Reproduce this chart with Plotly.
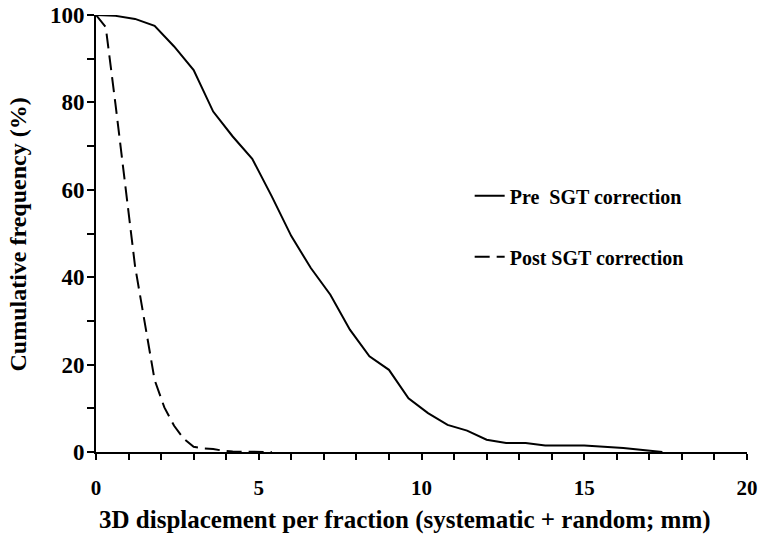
import plotly.graph_objects as go

# Data
pre_x = [0, 0.6, 1.2, 1.8, 2.4, 3.0, 3.6, 4.2, 4.8, 5.4, 6.0, 6.6, 7.2, 7.8, 8.4,
         9.0, 9.6, 10.2, 10.8, 11.4, 12.0, 12.6, 13.2, 13.8, 15.0, 16.2, 17.4]
pre_y = [100, 99.8, 99.1, 97.5, 92.8, 87.4, 77.9, 72.2, 67.1, 58.5, 49.4, 42.1, 36.0, 28.0, 21.9,
         18.8, 12.3, 8.9, 6.2, 4.9, 2.8, 2.05, 2.05, 1.5, 1.5, 0.9, 0]

post_x = [0, 0.3, 0.6, 0.9, 1.2, 1.5, 1.8, 2.1, 2.4, 2.7, 3.0, 3.3, 3.6, 3.9, 4.2, 4.8, 5.4]
post_y = [100, 97.2, 79.5, 61, 42.5, 29.5, 16.5, 10.2, 6.0, 3.0, 1.2, 0.8, 0.7, 0.3, 0.1, 0.05, 0]

x_ticks = [0, 5, 10, 15, 20]
y_ticks = [0, 20, 40, 60, 80, 100]

x_title = "3D displacement per fraction (systematic + random; mm)"
y_title = "Cumulative frequency (%)"

FONT = "Liberation Serif"

fig = go.Figure()
fig.add_trace(go.Scatter(x=pre_x, y=pre_y, mode="lines", name="Pre  SGT correction",
                         legendgroup="a",
                         line=dict(color="black", width=2)))
fig.add_trace(go.Scatter(x=post_x, y=post_y, mode="lines", name="Post SGT correction",
                         legendgroup="b",
                         line=dict(color="black", width=2, dash="15px,7px")))

fig.update_layout(
    width=759, height=536,
    margin=dict(l=96, r=12, t=15, b=84, autoexpand=False),
    paper_bgcolor="white", plot_bgcolor="white",
    font=dict(family=FONT, color="black", size=17),
    showlegend=True,
    legend=dict(x=0.574, y=0.402, xanchor="left", yanchor="bottom",
                tracegroupgap=32, bgcolor="rgba(0,0,0,0)",
                font=dict(family=FONT, size=20, color="black", weight="bold")),
    xaxis=dict(range=[0, 20], tickvals=x_ticks, ticktext=[str(v) for v in x_ticks],
               automargin=False, ticklabeloverflow="allow",
               showgrid=False, zeroline=False, showline=True, linecolor="black", linewidth=2,
               ticks="outside", tickcolor="black", ticklen=6, tickwidth=1.5,
               minor=dict(dtick=1, ticks="outside", ticklen=6, tickcolor="black", tickwidth=1.5),
               ticklabelstandoff=10,
               tickfont=dict(family=FONT, size=21, weight="bold")),
    yaxis=dict(range=[0, 100], tickvals=y_ticks, ticktext=[str(v) for v in y_ticks],
               automargin=False, ticklabeloverflow="allow",
               showgrid=False, zeroline=False, showline=True, linecolor="black", linewidth=2,
               ticks="outside", tickcolor="black", ticklen=7, tickwidth=1.5,
               minor=dict(dtick=10, ticks="outside", ticklen=7, tickcolor="black", tickwidth=1.5),
               ticklabelstandoff=-2,
               tickfont=dict(family=FONT, size=23, weight="bold")),
    annotations=[
        dict(text=x_title, xref="paper", yref="paper", x=0.4747, y=0,
             xanchor="center", yanchor="top", yshift=-52, showarrow=False,
             font=dict(family=FONT, size=25, weight="bold", color="black")),
        dict(text=y_title, xref="paper", yref="paper", x=0, y=0.5, textangle=-90,
             xanchor="center", yanchor="middle", xshift=-79, yshift=-1, showarrow=False,
             font=dict(family=FONT, size=24, weight="bold", color="black")),
    ],
)

# remove the default 8px body margin so the figure fills the window exactly
fig.write_html("out.html", config={"displayModeBar": False},
               post_script="document.body.style.margin='0px';")
